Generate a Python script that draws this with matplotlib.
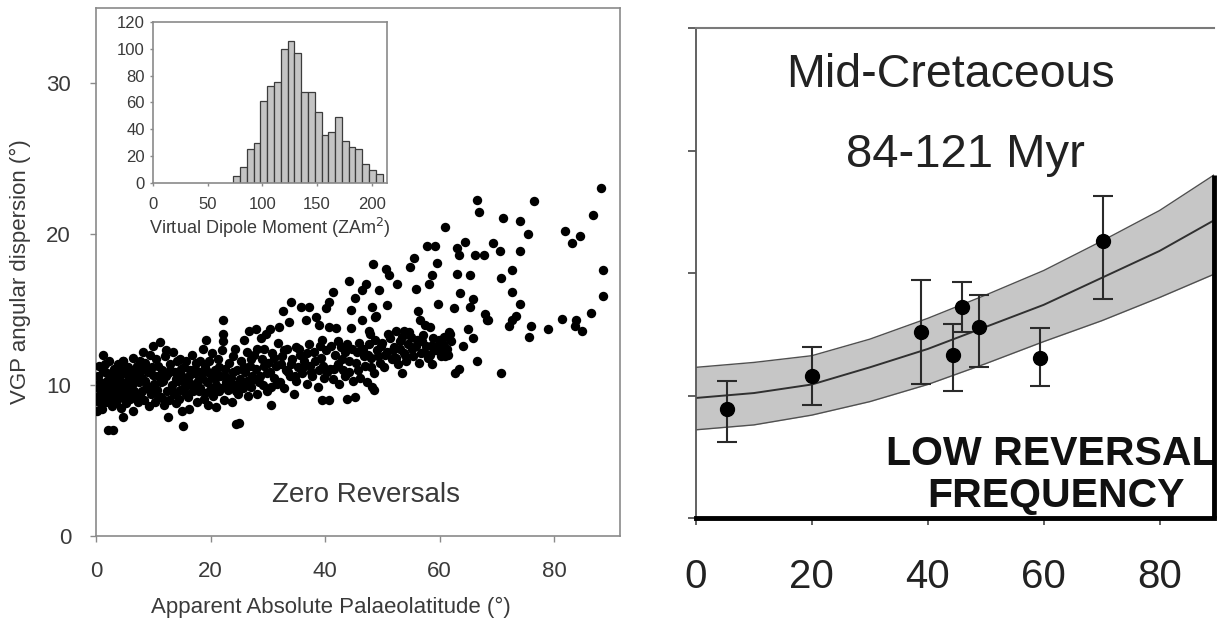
import matplotlib
matplotlib.use("Agg")
import matplotlib.pyplot as plt

plt.rcParams['font.family'] = ['Liberation Sans', 'DejaVu Sans']

# ---- left panel: VGP dispersion vs palaeolatitude (zero reversals) ----
lat_low = [0.3, 0.4, 0.5, 0.6, 0.8, 1.0, 1.1, 1.2, 1.4, 1.6, 1.7, 1.9, 2.1, 2.2, 2.4, 2.6, 2.8, 3.0, 3.1, 3.3,
           3.5, 3.7, 3.9, 4.1, 4.2, 4.4, 4.6, 4.7, 4.9, 5.1, 5.3, 5.5, 5.6, 5.8, 6.0, 6.2, 6.4, 6.5, 6.7, 6.9,
           7.1, 7.3, 7.5, 7.7, 7.9, 0.1, 2.1, 3.0, 4.7, 1.3, 4.7]
disp_low = [9.8, 10.6, 8.9, 11.3, 9.3, 10.1, 8.4, 11.0, 9.6, 10.9, 8.9, 10.3, 9.1, 11.6, 9.9, 10.6, 8.6, 9.5, 11.1, 10.2,
            8.9, 9.8, 11.4, 10.5, 9.2, 8.5, 10.0, 11.6, 9.5, 10.8, 8.8, 9.9, 11.2, 10.4, 9.1, 10.0, 8.3, 11.8, 9.6, 10.7,
            11.3, 8.9, 10.2, 9.4, 11.0, 8.3, 7.0, 7.0, 7.9, 12.0, 11.6]

lat_mid = [8.1, 8.2, 8.4, 8.6, 8.8, 9.0, 9.2, 9.4, 9.6, 9.8, 10.0, 10.1, 10.3, 10.5, 10.7, 10.9, 11.1, 11.3, 11.5, 11.7,
           11.9, 12.1, 12.3, 12.4, 12.6, 12.6, 12.8, 13.0, 13.2, 13.4, 13.6, 13.8, 14.0, 14.2, 14.4, 14.6, 14.7, 14.9, 15.1, 15.2,
           15.3, 15.5, 15.8, 15.9, 16.1, 16.3, 16.4, 16.6, 16.8, 17.0, 17.2, 17.4, 17.6, 17.8, 18.1, 18.2, 18.4, 18.7, 18.8, 19.0,
           19.2, 19.3, 19.5, 19.8, 19.9, 20.1, 20.3, 20.5, 20.7, 21.0, 21.0, 21.3, 21.5, 21.7, 22.0, 22.1, 22.1, 22.1, 22.3, 22.5,
           22.7, 23.0, 23.2, 23.5, 23.7, 24.0, 24.3, 24.3, 24.5, 24.6, 24.8]
disp_mid = [10.5, 12.2, 9.0, 11.5, 9.8, 10.9, 8.6, 12.0, 9.4, 11.2, 12.6, 10.1, 8.9, 11.7, 9.7, 10.6, 12.85, 9.2, 11.0, 10.3,
            8.7, 11.9, 12.3, 9.6, 10.8, 7.9, 9.0, 11.4, 10.0, 12.2, 9.4, 10.9, 8.8, 11.6, 10.3, 11.75, 9.7, 10.7, 8.3, 7.3,
            11.2, 9.9, 11.6, 10.5, 9.2, 8.4, 11.0, 10.1, 12.0, 9.6, 10.8, 11.5, 8.9, 10.3, 11.6, 9.8, 10.9, 12.4, 9.1, 11.2,
            13.0, 10.2, 8.7, 11.6, 9.7, 10.7, 12.1, 9.3, 11.0, 8.55, 10.0, 11.75, 9.6, 10.6, 12.3, 14.3, 13.4, 12.9, 9.0, 11.1,
            10.2, 9.7, 11.5, 10.5, 8.9, 11.9, 12.4, 10.0, 7.45, 11.0, 9.4]

lat_high = [25.0, 25.2, 25.4, 25.6, 25.9, 26.0, 26.3, 26.5, 26.8, 26.9, 27.1, 27.3, 27.6, 27.9, 28.0, 28.2, 28.4, 28.8, 28.9, 29.1,
            29.4, 29.7, 29.8, 30.0, 30.3, 30.5, 30.6, 30.8, 31.1, 31.4, 31.7, 32.0, 32.2, 32.6, 32.5, 32.8, 33.1, 33.4, 33.7, 33.9,
            34.0, 34.2, 34.6, 34.9, 35.0, 35.3, 35.8, 35.7, 36.0, 36.3, 36.6, 36.8, 37.2, 37.2, 37.4, 37.8, 38.0, 38.4, 38.7, 38.9,
            39.0, 39.3, 39.5, 39.5, 39.8, 40.1, 40.2, 40.7, 40.7, 40.7, 40.9, 41.3, 41.4, 41.7, 41.9, 42.2, 42.5, 42.8, 43.1, 43.4,
            43.9, 43.9, 44.2, 44.2, 44.5, 44.5, 44.8, 45.2, 45.3, 45.5, 45.8, 46.1, 46.5, 46.5, 46.6, 47.1, 47.0, 47.4, 47.7, 47.7,
            47.9, 48.0, 48.2, 48.2, 48.3, 48.5, 48.5, 48.8, 48.9, 49.1, 49.4, 49.6]
disp_high = [7.5, 10.4, 11.6, 9.8, 13.0, 10.9, 12.2, 9.3, 13.6, 11.3, 9.9, 10.6, 12.0, 13.7, 11.1, 9.4, 10.2, 13.1, 11.7, 10.0,
             12.4, 13.4, 10.8, 11.5, 13.7, 8.7, 9.9, 12.1, 10.5, 11.3, 12.8, 13.85, 10.2, 14.9, 11.9, 9.8, 11.0, 12.4, 14.2, 10.6,
             15.5, 11.7, 9.4, 12.5, 10.3, 11.2, 15.2, 12.0, 10.8, 11.6, 14.3, 10.1, 15.2, 12.7, 11.3, 10.6, 12.2, 14.5, 9.9, 11.0,
             14.0, 11.8, 13.0, 9.0, 10.5, 15.1, 12.3, 15.5, 13.85, 9.0, 11.1, 16.2, 10.4, 12.0, 13.8, 11.4, 10.1, 12.5, 11.0, 10.6,
             12.75, 9.1, 16.9, 11.6, 15.0, 13.8, 10.3, 15.8, 9.2, 12.2, 11.0, 10.5, 16.3, 14.3, 12.4, 16.7, 11.3, 10.2, 13.6, 12.75,
             13.4, 11.8, 15.2, 9.9, 18.0, 10.8, 9.7, 14.5, 14.6, 12.3, 16.3, 11.5]

lat_polar = [50.0, 50.3, 50.7, 50.8, 50.8, 51.1, 51.3, 51.6, 52.0, 52.3, 52.6, 52.7, 53.1, 53.4, 53.7, 53.8, 54.2, 54.5, 54.9, 55.0,
             55.4, 55.5, 55.8, 55.9, 56.3, 56.4, 56.6, 56.9, 57.3, 57.5, 57.8, 57.9, 58.1, 58.4, 58.5, 58.7, 58.7, 59.2, 59.2, 59.5,
             59.8, 59.9, 60.3, 60.6, 61.0, 61.0, 61.3, 61.6, 62.0, 62.6, 62.7, 63.0, 63.0, 63.3, 63.3, 63.6, 64.0, 64.5, 65.0, 65.3,
             65.3, 65.9, 65.9, 66.1, 66.5, 66.5, 66.8, 67.8, 67.9, 68.2, 68.5, 69.4, 70.6, 70.8, 70.8, 71.1, 72.1, 72.6, 72.7, 72.7,
             73.4, 74.0, 74.1, 74.1, 75.5, 75.6, 75.9, 76.5, 79.0, 81.3, 81.9, 83.1, 83.7, 83.9, 84.6, 84.9, 86.5, 86.7, 88.2, 88.5,
             88.5]
disp_polar = [12.8, 11.2, 17.7, 15.3, 12.2, 17.3, 13.1, 11.7, 12.5, 13.6, 16.7, 11.4, 12.9, 10.8, 13.6, 12.1, 11.6, 12.7, 17.8, 13.2,
              11.9, 18.4, 16.4, 12.6, 14.9, 11.5, 14.3, 12.9, 12.2, 14.0, 19.2, 11.8, 16.7, 13.85, 12.6, 17.3, 11.4, 19.2, 12.3, 18.1,
              15.4, 13.0, 11.9, 12.7, 20.5, 11.9, 12.4, 13.5, 12.9, 15.1, 10.8, 19.1, 17.4, 18.6, 11.1, 16.1, 12.6, 19.5, 13.7, 17.3,
              15.2, 15.7, 13.1, 18.6, 22.3, 11.6, 21.5, 18.65, 14.7, 14.3, 14.3, 19.4, 18.9, 17.1, 10.8, 21.1, 13.95, 14.3, 17.6, 16.2,
              14.6, 18.9, 20.9, 15.4, 20.0, 13.2, 13.9, 22.2, 13.7, 14.4, 20.2, 19.4, 13.9, 14.3, 19.9, 13.6, 14.8, 21.3, 23.1, 17.6,
              15.9]

# extra sites inside the dense central band
lat_band = [0.2, 0.7, 1.3, 1.5, 2.0, 2.5, 2.9, 3.4, 3.6, 4.0, 4.5, 5.0, 5.2, 5.9, 6.3, 6.8, 7.2, 7.6, 8.0, 8.5,
            9.1, 9.5, 9.9, 10.4, 10.8, 11.4, 11.8, 12.2, 12.9, 13.3, 13.9, 14.5, 14.8, 15.4, 15.7, 16.2, 16.9, 17.3, 17.9, 18.5,
            19.1, 19.6, 20.2, 20.8, 21.4, 21.9, 22.6, 23.3, 23.9, 24.4, 25.3, 25.8, 26.4, 27.0, 27.5, 28.1, 28.6, 29.3, 29.9, 30.4,
            31.0, 31.6, 32.3, 32.9, 33.5, 34.1, 34.7, 35.4, 36.1, 36.9, 37.6, 38.3, 39.1, 39.7, 40.4, 41.0, 41.6, 42.3, 42.9, 43.5,
            44.1, 44.7, 45.4, 46.0, 46.8, 47.5, 48.1, 48.7, 49.3, 49.8, 50.5, 51.0, 51.8, 52.4, 53.0, 53.5, 54.0, 54.7, 55.2, 56.0,
            56.7, 57.1, 57.7, 58.3, 58.9, 59.6, 60.1, 60.8, 61.4, 61.8]
disp_band = [9.2, 10.2, 9.6, 11.4, 10.8, 9.4, 10.0, 9.1, 10.8, 9.7, 11.0, 9.0, 10.2, 9.5, 10.9, 9.2, 10.4, 11.6, 9.6, 10.3,
             11.0, 9.9, 10.7, 9.5, 11.3, 10.2, 9.0, 10.6, 11.0, 9.7, 10.4, 9.1, 11.1, 10.2, 9.4, 10.6, 9.9, 11.1, 9.6, 10.5,
             9.5, 10.9, 9.8, 10.4, 11.2, 9.8, 10.6, 10.0, 10.9, 9.6, 10.0, 11.2, 10.3, 11.7, 10.4, 12.4, 10.6, 11.3, 9.6, 10.9,
             11.8, 10.1, 11.4, 12.3, 10.9, 11.4, 10.6, 12.4, 11.2, 12.1, 10.9, 11.6, 12.6, 11.3, 10.9, 12.6, 11.1, 12.9, 11.7, 12.2,
             10.9, 12.4, 11.5, 12.8, 11.9, 12.0, 11.2, 13.0, 11.9, 12.6, 12.0, 13.4, 12.3, 11.8, 12.4, 13.2, 12.0, 13.5, 12.4, 13.0,
             12.1, 13.3, 12.6, 12.0, 13.1, 12.6, 12.2, 13.2, 12.0, 13.4]

# inset histogram of virtual dipole moment
vdm_bins = [73.5, 79.7, 85.9, 92.1, 98.3, 104.5, 110.7, 116.9, 123.1, 129.3, 135.5,
            141.7, 147.9, 154.1, 160.3, 166.5, 172.7, 178.9, 185.1, 191.3, 197.5, 203.7]
vdm_counts = [5, 12, 25, 30, 61, 72, 75, 100, 106, 97, 68,
              68, 53, 36, 38, 49, 31, 27, 25, 14, 10, 7]
vdm_width = 6.2

# ---- right panel: mid-Cretaceous ----
site_lat = [5.3, 20.0, 38.8, 44.3, 45.9, 48.8, 59.3, 70.3]
site_disp = [8.9, 11.6, 15.2, 13.3, 17.2, 15.6, 13.1, 22.6]
site_hi = [11.2, 14.0, 19.4, 15.8, 19.3, 18.2, 15.5, 26.3]
site_lo = [6.2, 9.2, 10.9, 10.4, 15.2, 12.3, 10.8, 17.9]

model_lat = [0, 10, 20, 30, 40, 50, 60, 70, 80, 89.4]
model_mid = [9.8, 10.2, 10.9, 12.3, 13.8, 15.6, 17.4, 19.6, 21.8, 24.3]
model_upper = [12.3, 12.7, 13.25, 14.6, 16.3, 18.2, 20.2, 22.6, 25.1, 28.0]
model_lower = [7.2, 7.6, 8.4, 9.5, 10.9, 12.6, 14.4, 16.1, 18.0, 19.9]

W, H = 1219, 625
fig = plt.figure(figsize=(W / 100, H / 100), dpi=100)


def box(x0, y0, x1, y1):
    return [x0 / W, 1 - y1 / H, (x1 - x0) / W, (y1 - y0) / H]


gray = '#8a8a8a'
txt = '#3a3a3a'

ax = fig.add_axes(box(96, 8, 620, 536))
for lat, disp in ((lat_low, disp_low), (lat_mid, disp_mid), (lat_high, disp_high),
                  (lat_polar, disp_polar), (lat_band, disp_band)):
    ax.scatter(lat, disp, s=46, color='black', linewidths=0, zorder=3)
ax.set_xlim(0, 91.5)
ax.set_ylim(0, 35)
ax.set_xticks([0, 20, 40, 60, 80])
ax.set_yticks([0, 10, 20, 30])
for sp in ax.spines.values():
    sp.set_color(gray)
    sp.set_linewidth(1.2)
ax.tick_params(colors=gray, labelcolor=txt, labelsize=16, length=4, width=1, pad=14)
ax.tick_params(axis='y', pad=14)
ax.set_xlabel('Apparent Absolute Palaeolatitude (°)', fontsize=16, color=txt)
ax.xaxis.set_label_coords(0.448, -0.116)
ax.set_ylabel('VGP angular dispersion (°)', fontsize=16, color=txt)
ax.yaxis.set_label_coords(-0.124, 0.5)
ax.text(0.515, 0.078, 'Zero Reversals', transform=ax.transAxes, ha='center', va='center',
        fontsize=20, color=txt)

ins = fig.add_axes(box(153, 22, 387, 183))
ins.bar(vdm_bins, vdm_counts, width=vdm_width, align='edge', color='#c4c4c4',
        edgecolor='#3c3c3c', linewidth=0.9)
ins.set_xlim(0, 214)
ins.set_ylim(0, 120)
ins.set_xticks([0, 50, 100, 150, 200])
ins.set_yticks([0, 20, 40, 60, 80, 100, 120])
for sp in ins.spines.values():
    sp.set_color(gray)
    sp.set_linewidth(1.2)
ins.tick_params(colors=gray, labelcolor=txt, labelsize=12, length=2, width=1, pad=8)
ins.tick_params(axis='y', pad=4)
ins.set_xlabel('Virtual Dipole Moment (ZAm$^2$)', fontsize=13, color=txt, labelpad=3)

# right panel
rx = fig.add_axes(box(696, 28, 1214, 518))
rx.fill_between(model_lat, model_lower, model_upper, color='#c6c6c6', linewidth=0, zorder=1)
rx.plot(model_lat, model_upper, color='#505050', lw=1.0, zorder=2)
rx.plot(model_lat, model_lower, color='#505050', lw=1.0, zorder=2)
rx.plot(model_lat, model_mid, color='#303030', lw=1.4, zorder=2)
err = [[d - lo for d, lo in zip(site_disp, site_lo)], [hi - d for d, hi in zip(site_disp, site_hi)]]
rx.errorbar(site_lat, site_disp, yerr=err, fmt='o', color='black', ecolor='#2a2a2a',
            elinewidth=1.5, capsize=7, capthick=1.5, markersize=10, zorder=4)
rx.vlines(model_lat[-1], 0, model_upper[-1], color='black', lw=3.5, zorder=5, clip_on=False)
rx.set_xlim(0, 89.4)
rx.set_ylim(0, 40)
rx.set_xticks([0, 20, 40, 60, 80])
rx.set_yticks([0, 10, 20, 30, 40])
rx.set_yticklabels([])
rx.spines['right'].set_visible(False)
rx.spines['top'].set_color('#7a7a7a')
rx.spines['left'].set_color('#555555')
rx.spines['top'].set_linewidth(1.5)
rx.spines['left'].set_linewidth(1.3)
rx.spines['bottom'].set_color('black')
rx.spines['bottom'].set_linewidth(3.5)
rx.tick_params(axis='x', colors='#555555', labelcolor='#222222', labelsize=29, length=5, width=1.3, pad=24)
rx.tick_params(axis='y', colors='#555555', length=6, width=1.3)
rx.text(0.492, 0.905, 'Mid-Cretaceous', transform=rx.transAxes, ha='center', va='center',
        fontsize=33.5, color='#222222')
rx.text(0.52, 0.74, '84-121 Myr', transform=rx.transAxes, ha='center', va='center',
        fontsize=34, color='#222222')
rx.text(1.005, 0.13, 'LOW REVERSAL', transform=rx.transAxes, ha='right', va='center',
        fontsize=29.5, fontweight='bold', color='#111111')
rx.text(0.695, 0.045, 'FREQUENCY', transform=rx.transAxes, ha='center', va='center',
        fontsize=29.5, fontweight='bold', color='#111111')

fig.savefig('out.png', dpi=100)
